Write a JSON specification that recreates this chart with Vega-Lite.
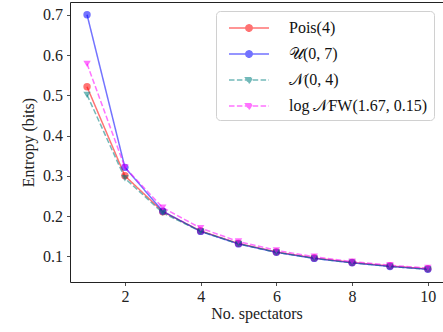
{
  "$schema": "https://vega.github.io/schema/vega-lite/v6.json",
  "width": 373,
  "height": 280,
  "autosize": {"type": "none"},
  "padding": {"left": 70, "top": 2, "right": 0, "bottom": 50},
  "background": "white",
  "config": {
    "font": "Liberation Serif",
    "view": {"stroke": "#222", "strokeWidth": 1},
    "axis": {"grid": false, "domain": false, "tickColor": "#222", "tickSize": 3.5, "tickWidth": 0.8, "labelFont": "Liberation Serif", "labelFontSize": 16, "labelColor": "#222", "titleFont": "Liberation Serif", "titleFontSize": 16, "titleFontWeight": "normal", "titleColor": "#222"}
  },
  "data": {"values": [
    {"series": "Pois(4)", "x": 1, "y": 0.521}, {"series": "Pois(4)", "x": 2, "y": 0.300}, {"series": "Pois(4)", "x": 3, "y": 0.211}, {"series": "Pois(4)", "x": 4, "y": 0.163}, {"series": "Pois(4)", "x": 5, "y": 0.132}, {"series": "Pois(4)", "x": 6, "y": 0.111}, {"series": "Pois(4)", "x": 7, "y": 0.096}, {"series": "Pois(4)", "x": 8, "y": 0.085}, {"series": "Pois(4)", "x": 9, "y": 0.076}, {"series": "Pois(4)", "x": 10, "y": 0.069},
    {"series": "𝒰(0, 7)", "x": 1, "y": 0.700}, {"series": "𝒰(0, 7)", "x": 2, "y": 0.321}, {"series": "𝒰(0, 7)", "x": 3, "y": 0.212}, {"series": "𝒰(0, 7)", "x": 4, "y": 0.162}, {"series": "𝒰(0, 7)", "x": 5, "y": 0.131}, {"series": "𝒰(0, 7)", "x": 6, "y": 0.110}, {"series": "𝒰(0, 7)", "x": 7, "y": 0.095}, {"series": "𝒰(0, 7)", "x": 8, "y": 0.084}, {"series": "𝒰(0, 7)", "x": 9, "y": 0.075}, {"series": "𝒰(0, 7)", "x": 10, "y": 0.068},
    {"series": "𝒩(0, 4)", "x": 1, "y": 0.501}, {"series": "𝒩(0, 4)", "x": 2, "y": 0.294}, {"series": "𝒩(0, 4)", "x": 3, "y": 0.208}, {"series": "𝒩(0, 4)", "x": 4, "y": 0.162}, {"series": "𝒩(0, 4)", "x": 5, "y": 0.131}, {"series": "𝒩(0, 4)", "x": 6, "y": 0.110}, {"series": "𝒩(0, 4)", "x": 7, "y": 0.095}, {"series": "𝒩(0, 4)", "x": 8, "y": 0.084}, {"series": "𝒩(0, 4)", "x": 9, "y": 0.075}, {"series": "𝒩(0, 4)", "x": 10, "y": 0.068},
    {"series": "log 𝒩FW(1.67, 0.15)", "x": 1, "y": 0.578}, {"series": "log 𝒩FW(1.67, 0.15)", "x": 2, "y": 0.321}, {"series": "log 𝒩FW(1.67, 0.15)", "x": 3, "y": 0.221}, {"series": "log 𝒩FW(1.67, 0.15)", "x": 4, "y": 0.170}, {"series": "log 𝒩FW(1.67, 0.15)", "x": 5, "y": 0.137}, {"series": "log 𝒩FW(1.67, 0.15)", "x": 6, "y": 0.115}, {"series": "log 𝒩FW(1.67, 0.15)", "x": 7, "y": 0.099}, {"series": "log 𝒩FW(1.67, 0.15)", "x": 8, "y": 0.087}, {"series": "log 𝒩FW(1.67, 0.15)", "x": 9, "y": 0.078}, {"series": "log 𝒩FW(1.67, 0.15)", "x": 10, "y": 0.071}
  ]},
  "encoding": {
    "x": {"field": "x", "type": "quantitative", "scale": {"domain": [0.55, 10.4], "nice": false, "zero": false},
          "axis": {"values": [2, 4, 6, 8, 10], "title": "No. spectators", "labelPadding": 3, "titlePadding": 1}},
    "y": {"field": "y", "type": "quantitative", "scale": {"domain": [0.0364, 0.7316], "nice": false, "zero": false},
          "axis": {"values": [0.1, 0.2, 0.3, 0.4, 0.5, 0.6, 0.7], "format": ".1f", "title": "Entropy (bits)", "labelPadding": 4, "titlePadding": 6}},
    "color": {"field": "series", "type": "nominal",
              "scale": {"domain": ["Pois(4)", "𝒰(0, 7)", "𝒩(0, 4)", "log 𝒩FW(1.67, 0.15)"], "range": ["#ff0000", "#0000ff", "#008080", "#ff00ff"]},
              "legend": {
                "title": null, "orient": "top-right", "offset": 9,
                "symbolSize": 400, "symbolStrokeWidth": 1.5, "symbolOpacity": 0.55,
                "labelFont": "Liberation Serif", "labelFontSize": 16, "labelColor": "#111", "labelOffset": 45, "labelLimit": 300,
                "padding": 6, "rowPadding": 7,
                "strokeColor": "#d0d0d0", "fillColor": "rgba(255,255,255,0.8)", "cornerRadius": 4,
                "encode": {"symbols": {"update": {
                  "shape": {"signal": "indexof(['Pois(4)', '𝒰(0, 7)'], datum.value) >= 0 ? 'M-0.4,0L3.6,0M1.92,0A0.32,0.32,0,1,1,1.28,0A0.32,0.32,0,1,1,1.92,0Z' : 'M-0.4,0L3.6,0M1.26,-0.22L1.94,-0.22L1.6,0.36Z'"},
                  "strokeDash": {"signal": "indexof(['Pois(4)', '𝒰(0, 7)'], datum.value) >= 0 ? [1, 0] : [5.5, 2.4]"},
                  "fill": {"signal": "scale('color', datum.value)"},
                  "stroke": {"signal": "scale('color', datum.value)"}
                }}}
              }}
  },
  "layer": [
    {
      "mark": {"type": "line", "strokeWidth": 1.5, "opacity": 0.55},
      "encoding": {
        "strokeDash": {"condition": {"test": "indexof(['Pois(4)', '𝒰(0, 7)'], datum.series) >= 0", "value": [1, 0]}, "value": [5.5, 2.4]}
      }
    },
    {
      "mark": {"type": "point", "filled": true, "size": 55, "opacity": 0.55},
      "encoding": {
        "shape": {"condition": {"test": "indexof(['Pois(4)', '𝒰(0, 7)'], datum.series) >= 0", "value": "circle"}, "value": "triangle-down"}
      }
    }
  ]
}
